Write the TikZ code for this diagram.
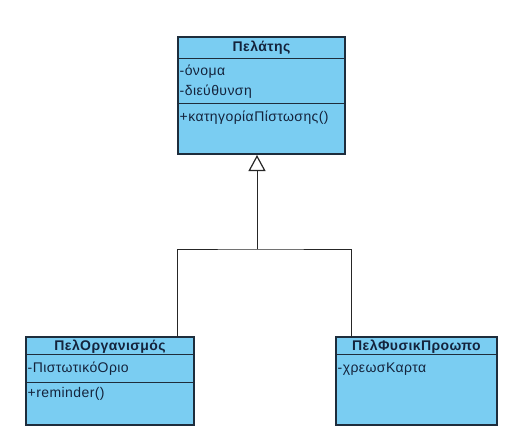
\documentclass[tikz,border=0pt]{standalone}
\usepackage{fontspec}
\setmainfont{Liberation Sans}
\newfontfamily\wideff[LetterSpace=3]{Liberation Sans}
\usetikzlibrary{arrows.meta}
\definecolor{boxfill}{RGB}{122,205,242}
\definecolor{boxline}{RGB}{30,45,60}
\definecolor{txt}{RGB}{20,35,60}
\tikzset{
  classbox/.style={draw=boxline, fill=boxfill, line width=1.2pt, rectangle, inner sep=0pt},
  sep/.style={draw=boxline, line width=1pt},
  ttl/.style={font=\wideff\bfseries\fontsize{14}{16}\selectfont, text=txt, inner sep=0pt},
  mem/.style={font=\wideff\fontsize{14}{16}\selectfont, text=txt, inner sep=0pt, anchor=west},
  conn/.style={draw=black!85, line width=0.9pt},
}
\begin{document}
\begin{tikzpicture}[x=1pt,y=-1pt]
\useasboundingbox (0,0) rectangle (522,440);
% top class
\node[classbox, minimum width=167pt, minimum height=117pt] (p) at (261.5,95.5) {};
\draw[sep] (178,58) -- (345,58);
\draw[sep] (178,103) -- (345,103);
\node[ttl] (pt) at (261.5,48) {Πελάτης};
\node[mem] (pa1) at (179.5,72) {-όνομα};
\node[mem] (pa2) at (179.5,92) {-διεύθυνση};
\node[mem] (pm1) at (179.5,118) {+κατηγορίαΠίστωσης()};
% left class
\node[classbox, minimum width=168pt, minimum height=88pt] (o) at (110,381) {};
\draw[sep] (26,354) -- (194,354);
\draw[sep] (26,382) -- (194,382);
\node[ttl] (ot) at (110,346.5) {ΠελΟργανισμός};
\node[mem] (oa1) at (27.5,369) {-ΠιστωτικόΟριο};
\node[mem] (om1) at (27.5,394) {+reminder()};
% right class
\node[classbox, minimum width=161pt, minimum height=88pt] (f) at (416.5,381) {};
\draw[sep] (336,354) -- (497,354);
\node[ttl] (ft) at (416.5,346.5) {ΠελΦυσικΠροωπο};
\node[mem] (fa1) at (337.5,369) {-χρεωσΚαρτα};
% connectors
\coordinate (tip) at (257,155);
\coordinate (j) at (257,249);
\coordinate (lc) at (177,337);
\coordinate (rc) at (351,337);
\draw[conn] (lc) |- (j) -| (rc);
\draw[conn, -{Triangle[open, length=16pt, width=17pt, line width=1.2pt]}] (j) -- (tip);
\end{tikzpicture}
\end{document}
